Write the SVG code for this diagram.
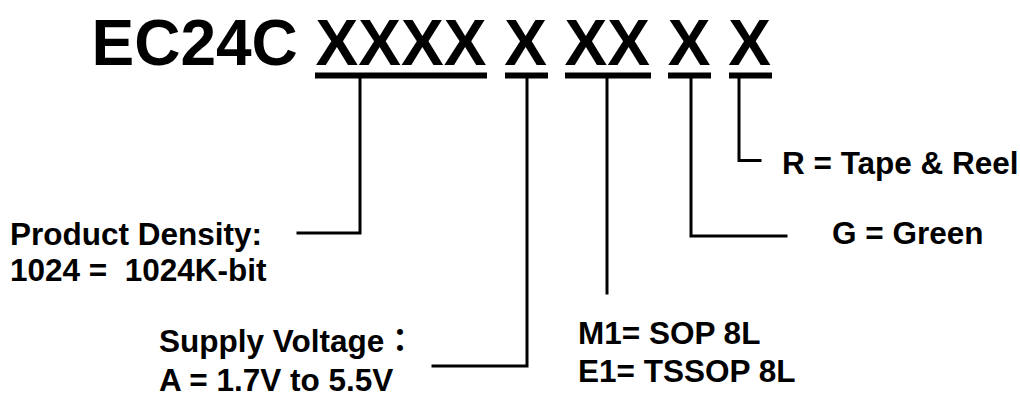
<svg xmlns="http://www.w3.org/2000/svg" width="1020" height="397" viewBox="0 0 1020 397">
<style>
text{font-family:"Liberation Sans",Arial,sans-serif;font-weight:bold;fill:#000}
.t{font-size:64px}
.l{font-size:31.5px}
.c{fill:none;stroke:#000;stroke-width:3;stroke-linecap:square;stroke-linejoin:miter}
.u{fill:#000}
</style>
<rect width="1020" height="397" fill="#fff"/>
<g id="title">
<text class="t" x="91.5" y="65">EC24C XXXX X XX X X</text>
<rect class="u" x="315" y="72.5" width="172" height="6"/>
<rect class="u" x="505" y="72.5" width="43" height="6"/>
<rect class="u" x="565" y="72.5" width="86" height="6"/>
<rect class="u" x="668" y="72.5" width="43" height="6"/>
<rect class="u" x="729" y="72.5" width="43" height="6"/>
</g>
<g id="connectors">
<polyline class="c" points="360,78 360,233 298,233"/>
<polyline class="c" points="527,78 527,366 433,366"/>
<polyline class="c" points="607,78 607,293"/>
<polyline class="c" points="691,78 691,236 786,236"/>
<polyline class="c" points="739,78 739,160.5 760,160.5"/>
</g>
<g id="density">
<text class="l" x="10" y="244.5">Product Density:</text>
<text class="l" x="10" y="281" xml:space="preserve">1024 =  1024K-bit</text>
</g>
<g id="voltage">
<text class="l" x="159" y="352">Supply Voltage<tspan font-family="Noto Sans CJK TC, sans-serif">：</tspan></text>
<text class="l" x="159" y="390.5">A = 1.7V to 5.5V</text>
</g>
<g id="package">
<text class="l" x="578" y="343.5">M1= SOP 8L</text>
<text class="l" x="578" y="381.5">E1= TSSOP 8L</text>
</g>
<g id="green">
<text class="l" x="832" y="243.5">G = Green</text>
</g>
<g id="reel">
<text class="l" x="782" y="174">R = Tape &amp; Reel</text>
</g>
</svg>
